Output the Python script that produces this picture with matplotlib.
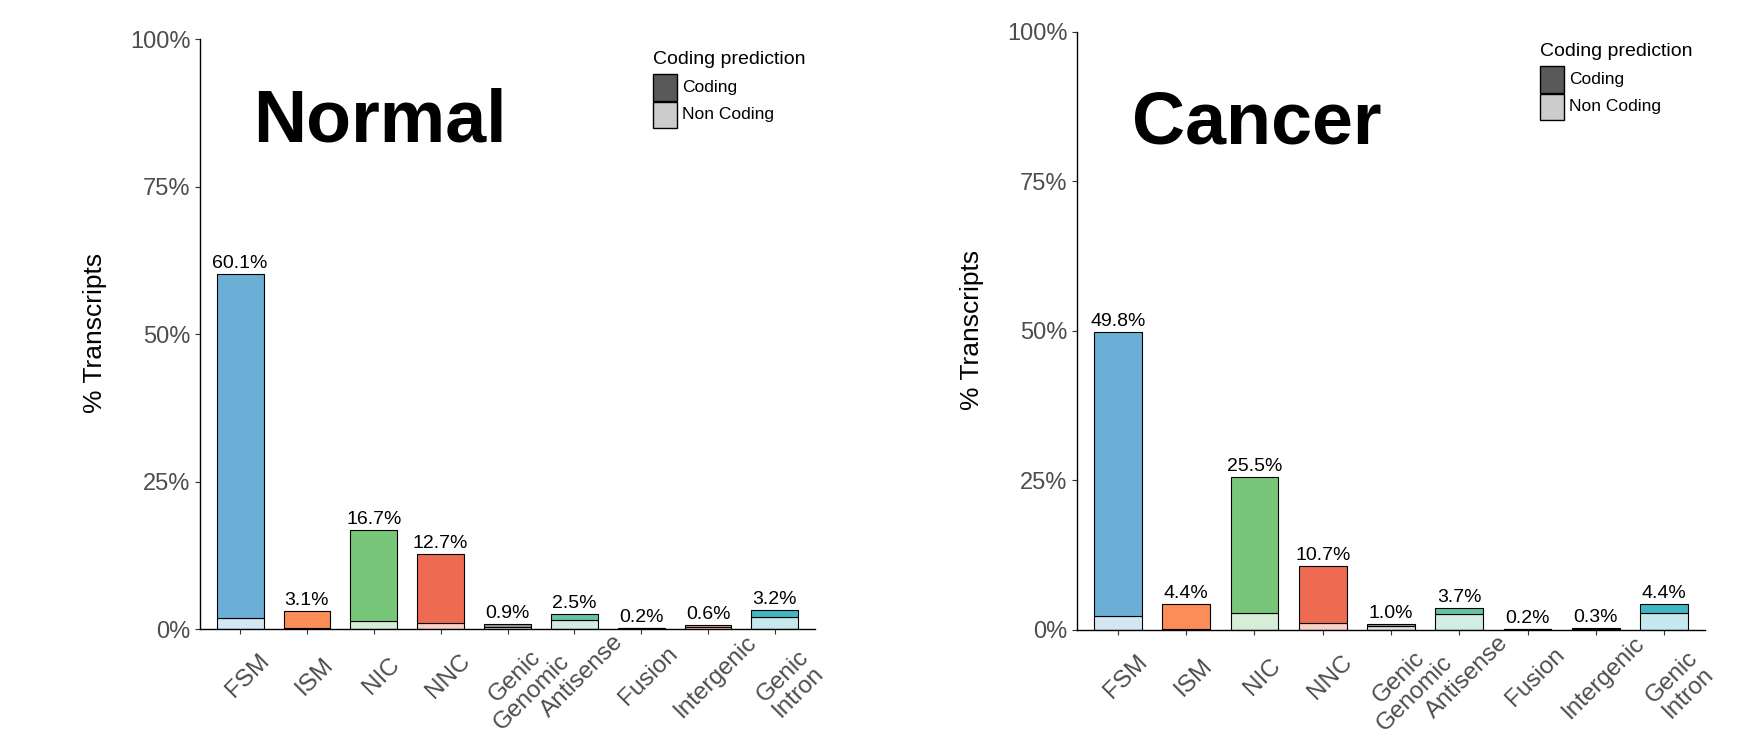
import matplotlib
matplotlib.use("Agg")
import matplotlib.pyplot as plt
import matplotlib.patches as patches
import numpy as np

plt.rcParams['font.family'] = ['Liberation Sans', 'DejaVu Sans']

# structural categories and their colours
categories = ['FSM', 'ISM', 'NIC', 'NNC', 'Genic\nGenomic', 'Antisense',
              'Fusion', 'Intergenic', 'Genic\nIntron']
cat_colors = ['#6BAED6', '#FC8D59', '#78C679', '#EE6A50', '#969696',
              '#66C2A4', '#FFC125', '#E9967A', '#41B6C4']

# % of transcripts per category (total) and the non coding part of it
normal_total = [60.1, 3.1, 16.7, 12.7, 0.9, 2.5, 0.2, 0.6, 3.2]
normal_noncoding = [1.8, 0.2, 1.3, 1.0, 0.4, 1.6, 0.1, 0.3, 2.1]
cancer_total = [49.8, 4.4, 25.5, 10.7, 1.0, 3.7, 0.2, 0.3, 4.4]
cancer_noncoding = [2.3, 0.2, 2.8, 1.1, 0.6, 2.6, 0.1, 0.1, 2.9]

y_ticks = [0, 25, 50, 75, 100]
y_ticklabels = ['0%', '25%', '50%', '75%', '100%']

W, H = 1742, 736
fig = plt.figure(figsize=(W / 100, H / 100), dpi=100)


def fx(px):
    return px / W


def fy(py):
    return 1 - py / H


def lighten(c, alpha=0.3):
    rgb = np.array(matplotlib.colors.to_rgb(c))
    return tuple(alpha * rgb + (1 - alpha) * 1.0)


def panel(rect, total, noncoding, title, title_xy, ylab_xy, leg_xy):
    left, top, right, bottom = rect
    ax = fig.add_axes([fx(left), fy(bottom), (right - left) / W, (bottom - top) / H])
    x = np.arange(len(categories))
    total = np.array(total)
    noncoding = np.array(noncoding)
    coding = total - noncoding

    ax.bar(x, noncoding, width=0.7, color=[lighten(c) for c in cat_colors],
           edgecolor='black', linewidth=0.8, zorder=2)
    ax.bar(x, coding, bottom=noncoding, width=0.7, color=cat_colors,
           edgecolor='black', linewidth=0.8, zorder=2)

    for xi, t in zip(x, total):
        ax.annotate(f'{t:.1f}%', (xi, t), xytext=(0, 1.5), textcoords='offset points',
                    ha='center', va='bottom', fontsize=14, color='black')

    ax.set_xlim(-0.6, len(categories) - 0.4)
    ax.set_ylim(0, 100)
    ax.set_yticks(y_ticks, y_ticklabels)
    ax.set_xticks(x, categories, rotation=45, rotation_mode='anchor',
                  ha='center', va='top', multialignment='center',
                  linespacing=1.05)
    ax.tick_params(axis='x', labelsize=17.5, labelcolor='#4D4D4D', length=3.3,
                   width=0.8, color='#333333', pad=25)
    ax.tick_params(axis='y', labelsize=17, labelcolor='#4D4D4D', length=3.3,
                   width=0.8, color='#333333', pad=3.5)
    for s in ['top', 'right']:
        ax.spines[s].set_visible(False)
    for s in ['left', 'bottom']:
        ax.spines[s].set_linewidth(1.0)
        ax.spines[s].set_color('black')

    fig.text(fx(title_xy[0]), fy(title_xy[1]), title, ha='center', va='baseline',
             fontsize=53, fontweight='bold', color='black')
    fig.text(fx(ylab_xy[0]), fy(ylab_xy[1]), '% Transcripts', rotation=90,
             ha='center', va='center', fontsize=19, color='black')

    # coding prediction legend
    lx, ly = leg_xy
    fig.text(fx(lx), fy(ly), 'Coding prediction', ha='left', va='baseline',
             fontsize=14, color='black')
    keys = [('Coding', '#595959'), ('Non Coding', '#CCCCCC')]
    for i, (lab, col) in enumerate(keys):
        y0 = ly + 10 + i * 27.5
        fig.add_artist(patches.Rectangle((fx(lx), fy(y0 + 26.5)), 24 / W, 26.5 / H,
                                         transform=fig.transFigure, facecolor=col,
                                         edgecolor='black', linewidth=1.0))
        fig.text(fx(lx + 29), fy(y0 + 13.5), lab, ha='left', va='center',
                 fontsize=12.5, color='black')
    return ax


panel((200, 39, 815, 629), normal_total, normal_noncoding, 'Normal',
      (380, 142), (95, 333), (653, 64))
panel((1077, 31.7, 1705, 630), cancer_total, cancer_noncoding, 'Cancer',
      (1257, 143), (972, 330), (1540, 56))

fig.savefig('out.png', dpi=100, facecolor='white')
